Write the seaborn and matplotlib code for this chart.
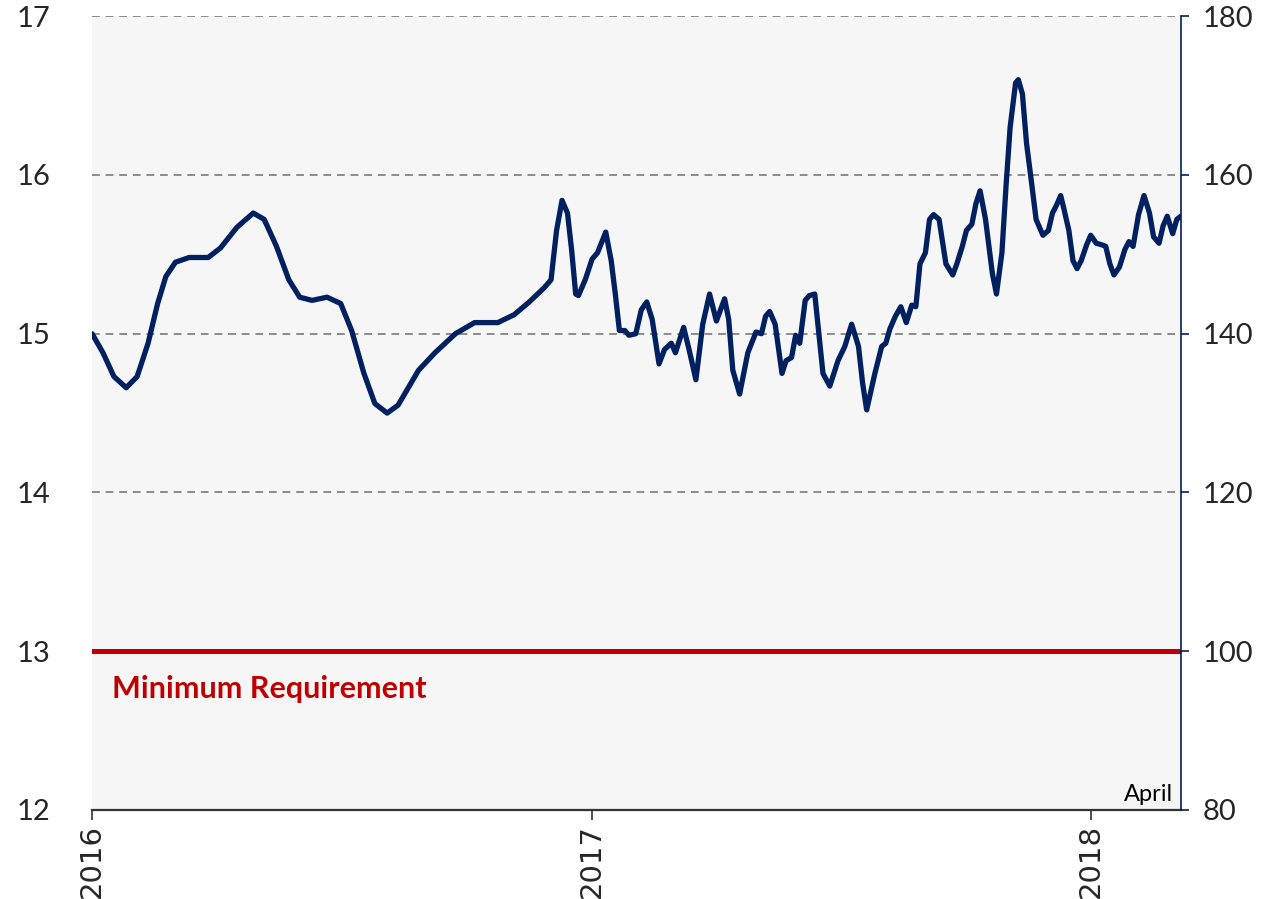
import matplotlib
import pandas as pd
import seaborn as sns
from matplotlib import font_manager

matplotlib.use("Agg")
import matplotlib.pyplot as plt


DATES = [
    "2016-01-01", "2016-01-09", "2016-01-17", "2016-01-26", "2016-02-03", "2016-02-11",
    "2016-02-18", "2016-02-24", "2016-03-02", "2016-03-12", "2016-03-26", "2016-04-04",
    "2016-04-16", "2016-04-28", "2016-05-06", "2016-05-15", "2016-05-24", "2016-06-01",
    "2016-06-10", "2016-06-21", "2016-07-01", "2016-07-09", "2016-07-18", "2016-07-26",
    "2016-08-04", "2016-08-12", "2016-08-27", "2016-09-08", "2016-09-23", "2016-10-07",
    "2016-10-24", "2016-11-05", "2016-11-16", "2016-11-27", "2016-12-02", "2016-12-03",
    "2016-12-06", "2016-12-10", "2016-12-14", "2016-12-17", "2016-12-20", "2016-12-22",
    "2016-12-27", "2017-01-01", "2017-01-05", "2017-01-11", "2017-01-15", "2017-01-18",
    "2017-01-21", "2017-01-25", "2017-01-28", "2017-02-02", "2017-02-06", "2017-02-10",
    "2017-02-14", "2017-02-19", "2017-02-23", "2017-02-28", "2017-03-03", "2017-03-09",
    "2017-03-13", "2017-03-18", "2017-03-23", "2017-03-28", "2017-04-02", "2017-04-08",
    "2017-04-11", "2017-04-14", "2017-04-19", "2017-04-25", "2017-05-01", "2017-05-05",
    "2017-05-08", "2017-05-11", "2017-05-15", "2017-05-20", "2017-05-23", "2017-05-27",
    "2017-05-30", "2017-06-02", "2017-06-06", "2017-06-09", "2017-06-13", "2017-06-16",
    "2017-06-19", "2017-06-24", "2017-06-30", "2017-07-05", "2017-07-10", "2017-07-15",
    "2017-07-18", "2017-07-21", "2017-07-27", "2017-08-01", "2017-08-04", "2017-08-07",
    "2017-08-11", "2017-08-15", "2017-08-19", "2017-08-23", "2017-08-26", "2017-08-29",
    "2017-09-02", "2017-09-05", "2017-09-08", "2017-09-12", "2017-09-17", "2017-09-22",
    "2017-09-25", "2017-09-29", "2017-10-02", "2017-10-06", "2017-10-09", "2017-10-12",
    "2017-10-16", "2017-10-21", "2017-10-24", "2017-10-28", "2017-10-31", "2017-11-03",
    "2017-11-07", "2017-11-09", "2017-11-12", "2017-11-15", "2017-11-19", "2017-11-22",
    "2017-11-27", "2017-12-01", "2017-12-04", "2017-12-07", "2017-12-10", "2017-12-12",
    "2017-12-16", "2017-12-19", "2017-12-22", "2017-12-25", "2017-12-29", "2018-01-01",
    "2018-01-05", "2018-01-09", "2018-01-12", "2018-01-15", "2018-01-18", "2018-01-22",
    "2018-01-26", "2018-01-29", "2018-02-01", "2018-02-05", "2018-02-09", "2018-02-13",
    "2018-02-16", "2018-02-20", "2018-02-23", "2018-02-26", "2018-03-02", "2018-03-05",
    "2018-03-08",
]
RATIO = [
    15.00, 14.88, 14.73, 14.66, 14.73, 14.94,
    15.19, 15.36, 15.45, 15.48, 15.48, 15.54,
    15.67, 15.76, 15.72, 15.55, 15.34, 15.23,
    15.21, 15.23, 15.19, 15.02, 14.75, 14.56,
    14.50, 14.55, 14.77, 14.88, 15.00, 15.07,
    15.07, 15.12, 15.20, 15.29, 15.34, 15.42,
    15.65, 15.84, 15.76, 15.53, 15.25, 15.24,
    15.34, 15.47, 15.51, 15.64, 15.46, 15.25,
    15.02, 15.02, 14.99, 15.00, 15.15, 15.20,
    15.09, 14.81, 14.90, 14.94, 14.88, 15.04,
    14.90, 14.71, 15.06, 15.25, 15.08, 15.22,
    15.09, 14.77, 14.62, 14.88, 15.01, 15.00,
    15.11, 15.14, 15.06, 14.75, 14.83, 14.85,
    14.99, 14.94, 15.21, 15.24, 15.25, 15.00,
    14.75, 14.67, 14.83, 14.92, 15.06, 14.92,
    14.69, 14.52, 14.75, 14.92, 14.94, 15.03,
    15.11, 15.17, 15.07, 15.18, 15.17, 15.44,
    15.51, 15.72, 15.75, 15.72, 15.44, 15.37,
    15.44, 15.55, 15.65, 15.69, 15.82, 15.90,
    15.72, 15.38, 15.25, 15.51, 15.93, 16.30,
    16.58, 16.60, 16.51, 16.20, 15.93, 15.72,
    15.62, 15.65, 15.76, 15.81, 15.87, 15.80,
    15.65, 15.46, 15.41, 15.46, 15.56, 15.62,
    15.57, 15.56, 15.55, 15.44, 15.37, 15.42,
    15.53, 15.58, 15.55, 15.75, 15.87, 15.76,
    15.61, 15.57, 15.68, 15.74, 15.63, 15.72,
    15.74,
]
MIN_REQUIREMENT = 13.0
LEFT_TICKS = [12, 13, 14, 15, 16, 17]
RIGHT_TICKS = [80, 100, 120, 140, 160, 180]
YEAR_TICKS = ["2016-01-01", "2017-01-01", "2018-01-01"]
YEAR_LABELS = ["2016", "2017", "2018"]
X_END = "2018-03-08"

NAVY = "#002060"
RED = "#C00000"


def pick_font(preferred: list[str]) -> str:
    installed = {font.name for font in font_manager.fontManager.ttflist}
    return next((name for name in preferred if name in installed), "DejaVu Sans")


def main() -> None:
    sns.set_theme(style="white")
    narrow = pick_font(["Liberation Sans Narrow", "Lato", "DejaVu Sans"])
    plt.rcParams["font.family"] = [narrow, "DejaVu Sans"]

    df = pd.DataFrame({"date": pd.to_datetime(DATES), "ratio": RATIO})
    x_start = pd.Timestamp(YEAR_TICKS[0])
    x_end = pd.Timestamp(X_END)

    fig = plt.figure(figsize=(12.84, 8.99), dpi=100)
    ax = fig.add_axes([0.0717, 0.099, 0.848, 0.883])
    ax.set_facecolor("#F6F6F6")

    for level in LEFT_TICKS[1:]:
        ax.axhline(level, color="#8C8C8C", linewidth=1.4, linestyle=(0, (4, 3)), zorder=1)
    ax.axhline(MIN_REQUIREMENT, color=RED, linewidth=3.6, zorder=3)

    sns.lineplot(data=df, x="date", y="ratio", color=NAVY, linewidth=3.8, ax=ax, zorder=4)
    ax.lines[-1].set_solid_joinstyle("round")
    ax.lines[-1].set_solid_capstyle("round")

    ax.set_xlim(x_start, x_end)
    ax.set_ylim(LEFT_TICKS[0], LEFT_TICKS[-1])
    ax.set_yticks(LEFT_TICKS)
    ax.set_yticklabels([str(t) for t in LEFT_TICKS], fontsize=21)
    ax.tick_params(axis="y", length=0, pad=30)
    ax.set_xticks(pd.to_datetime(YEAR_TICKS))
    ax.set_xticklabels(YEAR_LABELS, rotation=90, fontsize=21, family="DejaVu Sans")
    ax.tick_params(axis="x", direction="out", length=7, width=1.2, color="#333333", pad=3, bottom=True)
    ax.set_xlabel("")
    ax.set_ylabel("")

    for side in ["left", "top", "right"]:
        ax.spines[side].set_visible(False)
    ax.spines["bottom"].set_color("#333333")
    ax.spines["bottom"].set_linewidth(1.6)

    ax2 = ax.twinx()
    ax2.set_ylim(RIGHT_TICKS[0], RIGHT_TICKS[-1])
    ax2.set_yticks(RIGHT_TICKS)
    ax2.set_yticklabels([str(t) for t in RIGHT_TICKS], fontsize=21)
    ax2.tick_params(axis="y", direction="out", length=6, width=1.2, color=NAVY, pad=10)
    for side in ["left", "top", "bottom"]:
        ax2.spines[side].set_visible(False)
    ax2.spines["right"].set_visible(True)
    ax2.spines["right"].set_color(NAVY)
    ax2.spines["right"].set_linewidth(1.2)
    ax2.grid(False)

    ax.text(
        0.018, 0.152, "Minimum Requirement",
        transform=ax.transAxes, color=RED, fontsize=22, fontweight="bold",
        ha="left", va="center",
    )
    ax.text(
        0.993, 0.006, "April",
        transform=ax.transAxes, color="black", fontsize=17,
        ha="right", va="bottom",
    )

    fig.savefig("out.png", dpi=100, facecolor="white")
    plt.close(fig)


if __name__ == "__main__":
    main()
